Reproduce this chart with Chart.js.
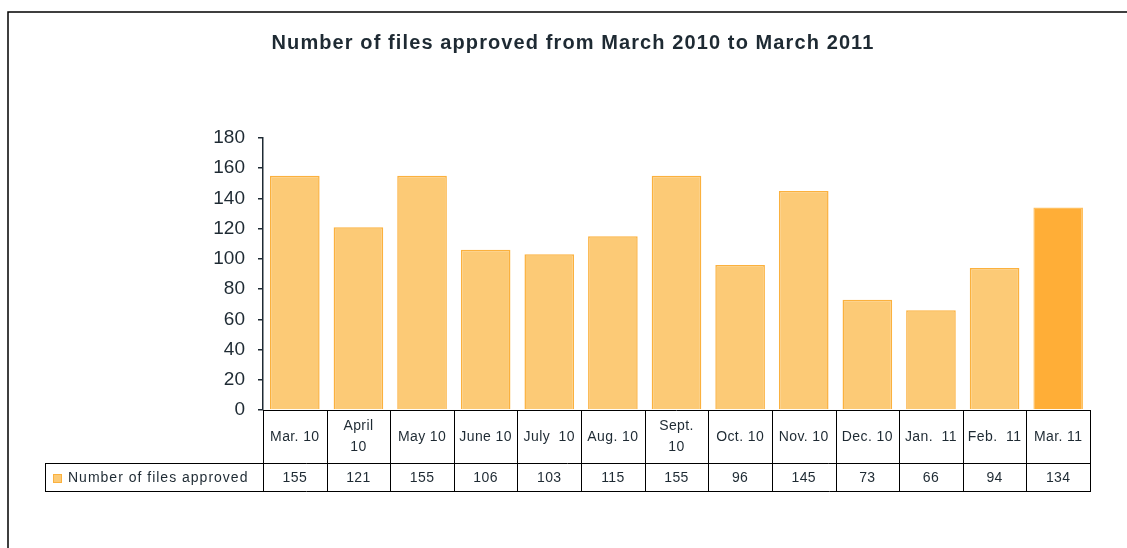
<!DOCTYPE html>
<html>
<head>
<meta charset="utf-8">
<script src="https://cdn.jsdelivr.net/npm/chart.js@4.4.1/dist/chart.umd.min.js"></script>
<style>
  html, body { margin: 0; padding: 0; background: #fff; }
  #wrap { width: 1127px; height: 548px; }
</style>
</head>
<body>
<div id="wrap"><canvas id="myChart" width="1127" height="548"></canvas></div>
<script>
const chartTitle = "Number of files approved from March 2010 to March 2011";
const months = [["Mar. 10"], ["April", "10"], ["May 10"], ["June 10"], ["July  10"], ["Aug. 10"], ["Sept.", "10"], ["Oct. 10"], ["Nov. 10"], ["Dec. 10"], ["Jan.  11"], ["Feb.  11"], ["Mar. 11"]];
const approved = [155, 121, 155, 106, 103, 115, 155, 96, 145, 73, 66, 94, 134];
const seriesName = "Number of files approved";
const yTicks = [0, 20, 40, 60, 80, 100, 120, 140, 160, 180];

const lightFill = 'rgb(252, 202, 118)';
const lightBorder = 'rgb(251, 177, 62)';
const darkFill = 'rgb(255, 174, 55)';
const textColor = '#1e2a33';
const fontName = '"Liberation Sans", Arial, sans-serif';

// fill / border per bar, the last month highlighted
const fills = approved.map((v, i) => i === approved.length - 1 ? darkFill : lightFill);
const borders = approved.map((v, i) => i === approved.length - 1 ? 'rgb(255, 192, 95)' : lightBorder);

// frame around the whole chart + title
const framePlugin = {
    id: 'frame',
    beforeDraw(chart) {
        const ctx = chart.ctx;
        ctx.save();
        ctx.fillStyle = '#fff';
        ctx.fillRect(0, 0, chart.width, chart.height);
        ctx.strokeStyle = '#000';
        ctx.lineWidth = 1.5;
        ctx.beginPath();
        ctx.moveTo(8, chart.height + 5);
        ctx.lineTo(8, 12);
        ctx.lineTo(chart.width + 5, 12);
        ctx.stroke();

        ctx.fillStyle = textColor;
        ctx.font = 'bold 20px ' + fontName;
        ctx.letterSpacing = '1.1px';
        ctx.textAlign = 'center';
        ctx.textBaseline = 'middle';
        ctx.fillText(chartTitle, 573, 43);
        ctx.restore();
    }
};

// data table under the plot, columns taken from the x scale
const tablePlugin = {
    id: 'dataTable',
    afterDraw(chart) {
        const ctx = chart.ctx;
        const xs = chart.scales.x;
        const area = chart.chartArea;
        const row1Top = area.bottom;
        const row1Bottom = row1Top + 53;
        const row2Bottom = row1Bottom + 28;
        const labelLeft = 45;
        const n = months.length;
        const half = (xs.getPixelForValue(1) - xs.getPixelForValue(0)) / 2;

        ctx.save();
        ctx.strokeStyle = '#000';
        ctx.lineWidth = 1;
        ctx.beginPath();
        // horizontal lines
        ctx.moveTo(area.left, row1Top + 0.5); ctx.lineTo(area.right, row1Top + 0.5);
        ctx.moveTo(labelLeft, row1Bottom + 0.5); ctx.lineTo(area.right, row1Bottom + 0.5);
        ctx.moveTo(labelLeft, row2Bottom + 0.5); ctx.lineTo(area.right + 1, row2Bottom + 0.5);
        // vertical lines
        ctx.moveTo(labelLeft + 0.5, row1Bottom); ctx.lineTo(labelLeft + 0.5, row2Bottom);
        for (let i = 0; i <= n; i++) {
            const x = Math.round(xs.getPixelForValue(i) - half) + 0.5;
            ctx.moveTo(x, row1Top); ctx.lineTo(x, row2Bottom);
        }
        ctx.stroke();

        ctx.fillStyle = textColor;
        ctx.font = '14px ' + fontName;
        ctx.letterSpacing = '0.4px';
        ctx.textAlign = 'center';
        ctx.textBaseline = 'middle';
        for (let i = 0; i < n; i++) {
            const cx = xs.getPixelForValue(i);
            const lines = months[i];
            const midY = (row1Top + row1Bottom) / 2 + 0.5;
            lines.forEach((line, k) => {
                ctx.fillText(line, cx, midY + (k - (lines.length - 1) / 2) * 21);
            });
            ctx.fillText(String(approved[i]), cx, (row1Bottom + row2Bottom) / 2 + 1);
        }

        // legend key in the first cell
        const keyY = (row1Bottom + row2Bottom) / 2 + 1;
        ctx.fillStyle = lightFill;
        ctx.strokeStyle = lightBorder;
        ctx.lineWidth = 1;
        ctx.fillRect(53, keyY - 4, 9, 9);
        ctx.strokeRect(53.5, keyY - 3.5, 8, 8);
        ctx.fillStyle = textColor;
        ctx.textAlign = 'left';
        ctx.letterSpacing = '1px';
        ctx.fillText(seriesName, 68, keyY + 0.5);
        ctx.restore();
    }
};

const ctx = document.getElementById('myChart').getContext('2d');
const chart = new Chart(ctx, {
    type: 'bar',
    data: {
        labels: months.map(m => m.join(' ')),
        datasets: [{
            label: seriesName,
            data: approved,
            backgroundColor: fills,
            borderColor: borders,
            borderWidth: 1.5,
            borderSkipped: 'bottom',
            barPercentage: 0.78,
            categoryPercentage: 1
        }]
    },
    options: {
        responsive: false,
        animation: false,
        layout: {
            padding: { left: 0, right: 37, top: 138, bottom: 138 }
        },
        plugins: {
            legend: { display: false },
            tooltip: { enabled: false },
            title: { display: false }
        },
        scales: {
            x: {
                display: false
            },
            y: {
                min: 0,
                max: 180,
                afterBuildTicks: (scale) => { scale.ticks = yTicks.map(v => ({ value: v })); },
                afterFit: (scale) => { scale.width = 263; },
                ticks: {
                    color: textColor,
                    padding: 13,
                    font: { family: fontName, size: 19 }
                },
                grid: {
                    drawOnChartArea: false,
                    drawTicks: true,
                    tickLength: 5,
                    color: '#1e2a33',
                    lineWidth: 1.5
                },
                border: { display: true, color: '#1e2a33', width: 1.5 }
            }
        }
    },
    plugins: [framePlugin, tablePlugin]
});
</script>
</body>
</html>
